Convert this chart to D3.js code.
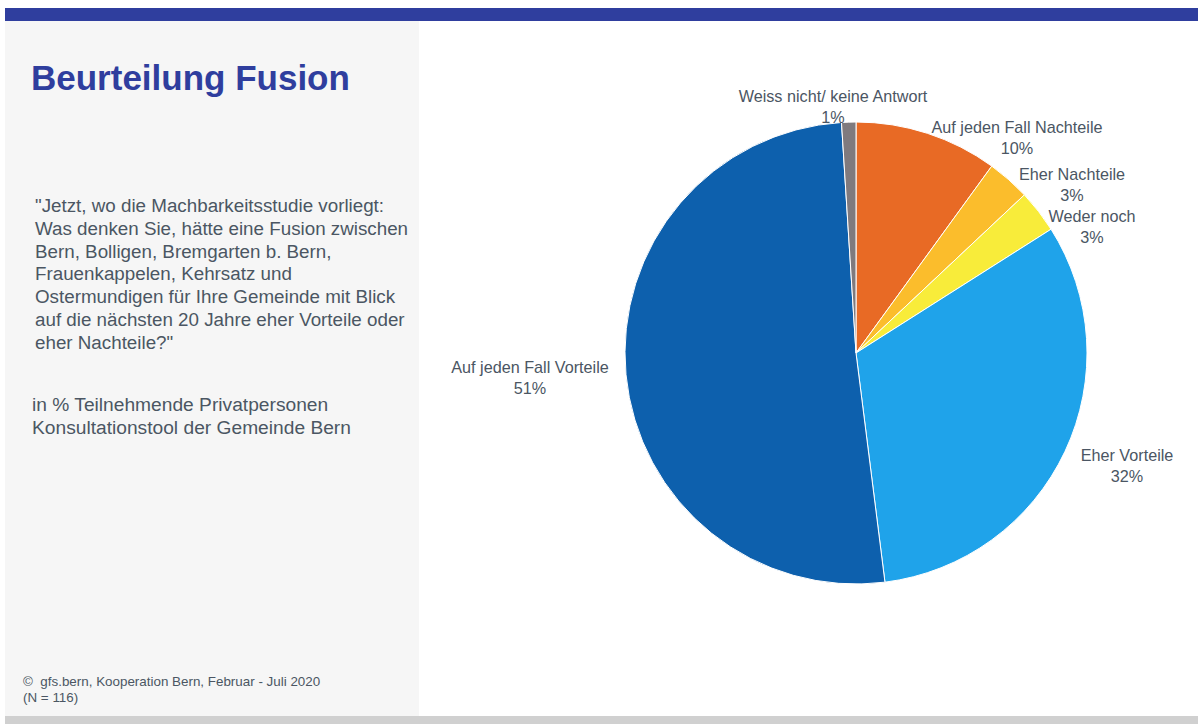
<!DOCTYPE html>
<meta charset="utf-8">
<style type="text/css">
body {
  margin: 0;
  font-family: 'Liberation Sans', Arial, sans-serif;
  background: #ffffff;
}
.g-hed {
  fill: #2f3e9e;
  font-weight: bold;
  font-size: 35px;
}
.g-intro {
  fill: #4b5663;
  font-size: 18.8px;
}
.g-sub {
  fill: #4b5663;
  font-size: 19.2px;
}
.g-source {
  fill: #4b5663;
  font-size: 13.4px;
  white-space: pre;
}
.label {
  fill: #4b5663;
  font-size: 16.2px;
}
.slices path {
  stroke: #ffffff;
  stroke-width: 1px;
}
</style>
<body>
<div class="g-chart"></div>
<script src="https://cdnjs.cloudflare.com/ajax/libs/d3/7.8.5/d3.min.js"></script>
<script type="text/javascript">

// data, clockwise from 12 o'clock
var categories = ["Auf jeden Fall Nachteile", "Eher Nachteile", "Weder noch", "Eher Vorteile", "Auf jeden Fall Vorteile", "Weiss nicht/ keine Antwort"];
var values = [10, 3, 3, 32, 51, 1];
var colors = ["#e86a25", "#fbbd2c", "#f8ec3a", "#1fa3ea", "#0d60ad", "#7f7a7e"];

// where excel put the labels (offset from pie centre)
var labelPos = [[161, -220], [216, -173], [236, -131], [271, 108], [-326, 20], [-23, -251]];

var introLines = [
  "\"Jetzt, wo die Machbarkeitsstudie vorliegt:",
  "Was denken Sie, hätte eine Fusion zwischen",
  "Bern, Bolligen, Bremgarten b. Bern,",
  "Frauenkappelen, Kehrsatz und",
  "Ostermundigen für Ihre Gemeinde mit Blick",
  "auf die nächsten 20 Jahre eher Vorteile oder",
  "eher Nachteile?\""
];
var subLines = ["in % Teilnehmende Privatpersonen", "Konsultationstool der Gemeinde Bern"];
var sourceLines = ["©  gfs.bern, Kooperation Bern, Februar - Juli 2020", "(N = 116)"];

var width = 1198, height = 724;

var svg = d3.select(".g-chart").append("svg")
  .attr("width", width)
  .attr("height", height)
  .style("display", "block");

//frame: top bar, left panel, bottom bar
svg.append("rect").attr("x", 5).attr("y", 8).attr("width", width - 5).attr("height", 13).attr("fill", "#2f3e9e");
svg.append("rect").attr("x", 5).attr("y", 21).attr("width", 414).attr("height", 695).attr("fill", "#f6f6f6");
svg.append("rect").attr("x", 5).attr("y", 716).attr("width", width - 5).attr("height", 8).attr("fill", "#d0d0d0");

svg.append("text").attr("class", "g-hed").attr("x", 31).attr("y", 90).text("Beurteilung Fusion");

svg.append("g").selectAll("text")
  .data(introLines).enter().append("text")
  .attr("class", "g-intro")
  .attr("x", 35)
  .attr("y", function(d, i) { return 212 + i * 22.8; })
  .text(function(d) { return d; });

svg.append("g").selectAll("text")
  .data(subLines).enter().append("text")
  .attr("class", "g-sub")
  .attr("x", 32)
  .attr("y", function(d, i) { return 411 + i * 22.5; })
  .text(function(d) { return d; });

svg.append("g").selectAll("text")
  .data(sourceLines).enter().append("text")
  .attr("class", "g-source")
  .attr("x", 23)
  .attr("y", function(d, i) { return 686 + i * 16; })
  .text(function(d) { return d; });

//pie
var cx = 856, cy = 353, radius = 231;
var pie = d3.pie().sort(null).value(function(d) { return d; });
var arc = d3.arc().innerRadius(0).outerRadius(radius);
var arcs = pie(values);

var g = svg.append("g").attr("transform", "translate(" + cx + "," + cy + ")");

g.append("g").attr("class", "slices")
  .selectAll("path")
  .data(arcs).enter().append("path")
  .attr("d", arc)
  .attr("fill", function(d, i) { return colors[i]; });

var labels = g.append("g").selectAll("text")
  .data(arcs).enter().append("text")
  .attr("class", "label")
  .attr("text-anchor", "middle")
  .attr("transform", function(d, i) { return "translate(" + labelPos[i][0] + "," + labelPos[i][1] + ")"; });

labels.append("tspan").attr("x", 0).attr("dy", "0")
  .text(function(d, i) { return categories[i]; });
labels.append("tspan").attr("x", 0).attr("dy", "1.3em")
  .text(function(d) { return d.value + "%"; });

</script>
</body>
